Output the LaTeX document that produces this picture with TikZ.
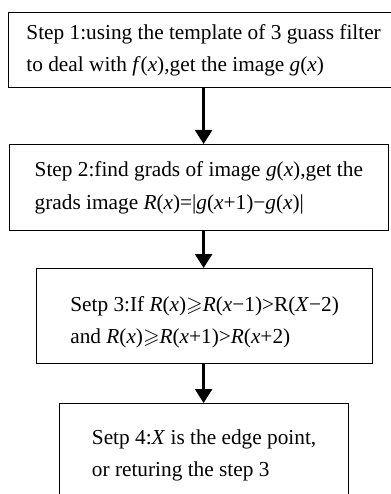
\documentclass[tikz,border=0pt]{standalone}
\usepackage{fontspec}
\setmainfont{Liberation Serif}
\usepackage{amssymb}
\usetikzlibrary{arrows.meta,positioning}

\newcommand{\vi}[1]{\textit{#1}}

\begin{document}
\begin{tikzpicture}[x=1pt,y=-1pt,
  stepbox/.style={draw,line width=1.2pt,anchor=north west,align=left,inner ysep=0pt,
                  font=\fontsize{21.3}{32.5}\selectfont},
  flow/.style={line width=2.6pt,-{Triangle[width=17pt,length=14pt]}}]

  \useasboundingbox[fill=white] (0,0) rectangle (390,494);

	%steps
 \node[stepbox, minimum width=390, minimum height=75] (s1) at (8,12)
   {Step 1:using the template of 3 guass filter\\to deal with \vi{f}(\vi{x}),get the image \vi{g}(\vi{x})};

 \node[stepbox, minimum width=379.5, minimum height=86] (s2) at (8.5,144)
   {Step 2:find grads of image \vi{g}(\vi{x}),get the\\grads image \vi{R}(\vi{x})=|\vi{g}(\vi{x}+1)−\vi{g}(\vi{x})|};

 \node[stepbox, minimum width=336, minimum height=95, text height=60pt] (s3) at (36,268)
   {Setp 3:If \vi{R}(\vi{x})$\geqslant$\vi{R}(\vi{x}−1)>R(\vi{X}−2)\\and \vi{R}(\vi{x})$\geqslant$\vi{R}(\vi{x}+1)>\vi{R}(\vi{x}+2)};

 \node[stepbox, minimum width=289, inner ysep=26pt, text depth=80pt] (s4) at (59,403)
   {Setp 4:\vi{X} is the edge point,\\or returing the step 3};

	%arrows
 \draw[flow] (s1.south) -- (s1.south |- s2.north);
 \draw[flow] (s2.south -| s1.south) -- (s1.south |- s3.north);
 \draw[flow] (s3.south -| s1.south) -- (s1.south |- s4.north);

\end{tikzpicture}
\end{document}
